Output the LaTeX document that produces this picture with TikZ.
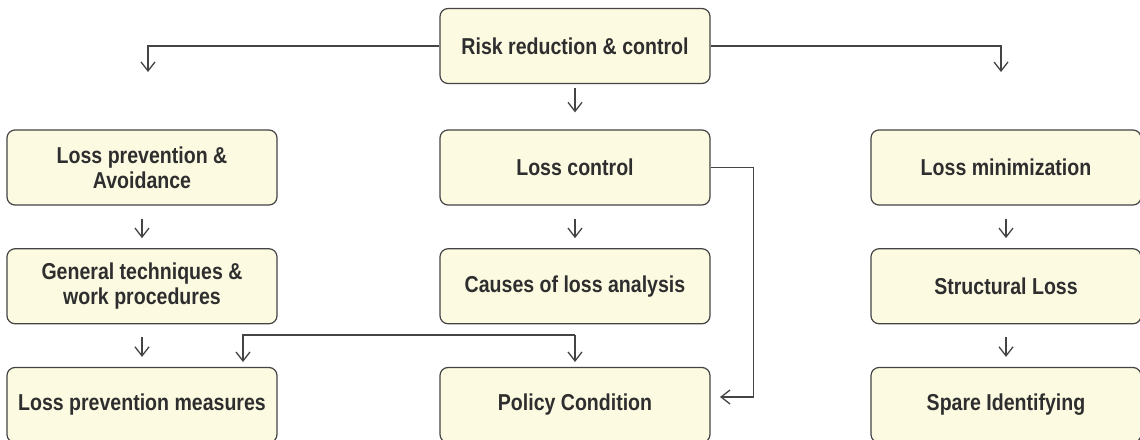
\documentclass[tikz,border=0pt]{standalone}
\usepackage{fontspec}
\setmainfont{Liberation Sans}[FakeStretch=0.85]
\usetikzlibrary{arrows.meta}
\definecolor{boxfill}{HTML}{FDFAE2}
\definecolor{boxline}{HTML}{444444}
\definecolor{textgray}{HTML}{2E2E2E}
\tikzstyle{stepbox} = [rectangle, rounded corners=8pt, minimum width=270pt, minimum height=75pt, text centered, align=center, draw=boxline, line width=1.2pt, fill=boxfill, text=textgray, font=\fontsize{23}{25}\selectfont\bfseries]
\tikzstyle{arrow} = [line width=1.3pt, draw=boxline, -{Straight Barb[length=9pt,width=14pt]}]
\tikzstyle{stub} = [arrow, shorten <=13pt, shorten >=10pt]

\begin{document}
\begin{tikzpicture}[x=1pt, y=-1pt, node distance=118.75pt]
    \useasboundingbox (0,0) rectangle (1140,439);
    % top
    \node (Risk) [stepbox] at (575,46) {Risk reduction \& control};
    % left column
    \node (Prevent) [stepbox] at (142,167.5) {Loss prevention \&\\Avoidance};
    \node (Techniques) [stepbox, below of = Prevent] {General techniques \&\\work procedures};
    \node (Measures) [stepbox, below of = Techniques] {Loss prevention measures};
    % middle column
    \node (Control) [stepbox] at (575,167.5) {Loss control};
    \node (Causes) [stepbox, below of = Control] {Causes of loss analysis};
    \node (Policy) [stepbox, below of = Causes] {Policy Condition};
    % right column
    \node (Minimize) [stepbox] at (1006,167.5) {Loss minimization};
    \node (Structural) [stepbox, below of = Minimize] {Structural Loss};
    \node (Spare) [stepbox, below of = Structural] {Spare Identifying};

    \coordinate (RiskLeft) at (148,72);
    \coordinate (RiskRight) at (1001,72);
    \coordinate (PolicyEnd) at (720,397);
    \coordinate (Bus) at (575,335);
    \coordinate (BusLeft) at (243,362);

    \draw [arrow] (Risk.west) -| (RiskLeft);
    \draw [arrow] (Risk.east) -| (RiskRight);
    \draw [arrow, shorten <=4pt, shorten >=17pt] (Risk) -- (Control);
    \draw [stub] (Prevent) -- (Techniques);
    \draw [stub] (Techniques) -- (Measures);
    \draw [stub] (Control) -- (Causes);
    \draw [stub] (Minimize) -- (Structural);
    \draw [stub] (Structural) -- (Spare);
    \draw [arrow] (Control.east) -- ++(43,0) |- (PolicyEnd);
    \draw [arrow] (Bus) -- ++(0,27);
    \draw [arrow] (Bus) -| (BusLeft);
\end{tikzpicture}
\end{document}
